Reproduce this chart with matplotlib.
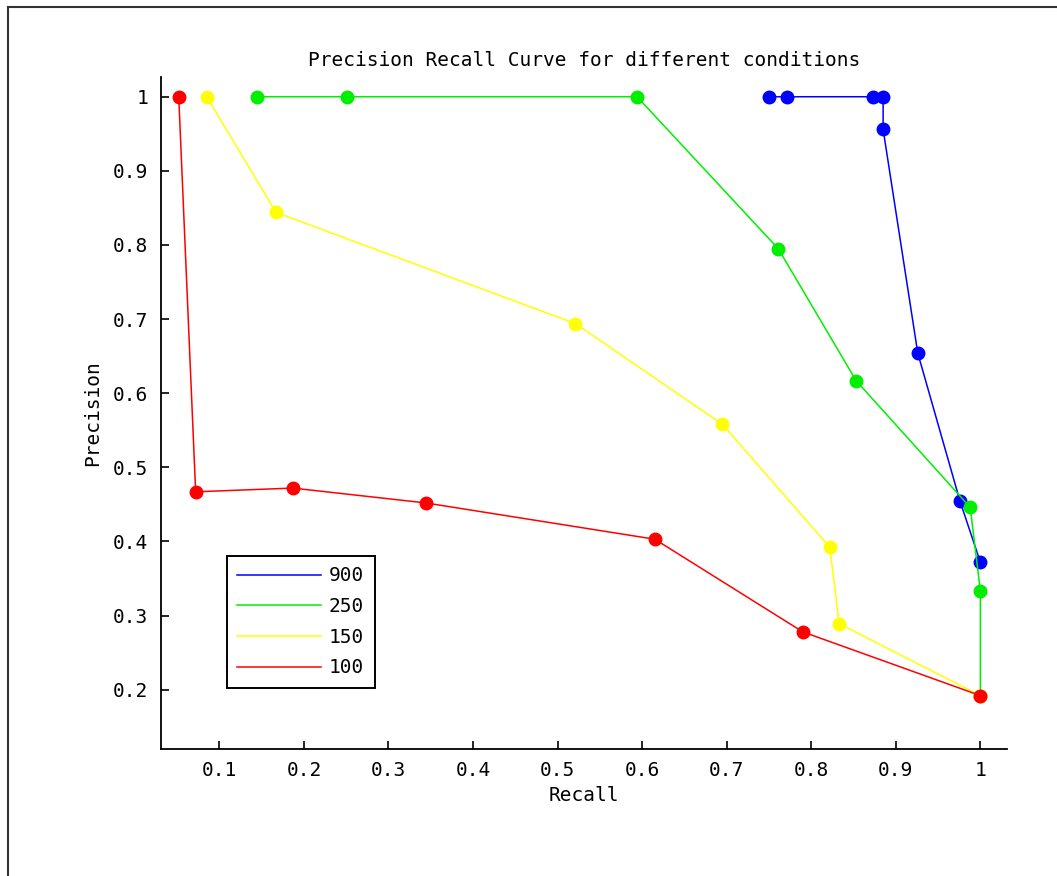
import matplotlib.pyplot as plt
from matplotlib.lines import Line2D

# recall / precision per condition
r900 = [0.750, 0.771, 0.873, 0.885, 0.885, 0.926, 0.976, 1.000]
p900 = [1.000, 1.000, 1.000, 1.000, 0.956, 0.654, 0.454, 0.372]

r250 = [0.145, 0.251, 0.594, 0.761, 0.853, 0.988, 1.000, 1.000]
p250 = [1.000, 1.000, 1.000, 0.795, 0.617, 0.446, 0.333, 0.192]

r150 = [0.085, 0.167, 0.521, 0.695, 0.822, 0.833, 1.000]
p150 = [1.000, 0.844, 0.694, 0.558, 0.392, 0.289, 0.192]

r100 = [0.052, 0.072, 0.187, 0.344, 0.615, 0.790, 1.000]
p100 = [1.000, 0.467, 0.472, 0.452, 0.403, 0.278, 0.192]

labels = ['900', '250', '150', '100']
colors = ['#0000ff', '#00ee00', '#ffff00', '#ff0000']

xticks = [0.1, 0.2, 0.3, 0.4, 0.5, 0.6, 0.7, 0.8, 0.9, 1.0]
xticklabels = ['0.1', '0.2', '0.3', '0.4', '0.5', '0.6', '0.7', '0.8', '0.9', '1']
yticks = [0.2, 0.3, 0.4, 0.5, 0.6, 0.7, 0.8, 0.9, 1.0]
yticklabels = ['0.2', '0.3', '0.4', '0.5', '0.6', '0.7', '0.8', '0.9', '1']

plt.rcParams['font.family'] = 'DejaVu Sans Mono'
fs = 14

fig = plt.figure(figsize=(10.57, 8.76), dpi=100)
ax = fig.add_axes([0.1523, 0.145, 0.800, 0.7674])

for r, p, c, lab in zip([r900, r250, r150, r100], [p900, p250, p150, p100], colors, labels):
    ax.plot(r, p, '-o', color=c, lw=1.1, ms=9, mec=c, label=lab)

ax.set_xlim(0.031, 1.031)
ax.set_ylim(0.12, 1.027)
ax.set_xticks(xticks)
ax.set_xticklabels(xticklabels)
ax.set_yticks(yticks)
ax.set_yticklabels(yticklabels)
ax.spines['top'].set_visible(False)
ax.spines['right'].set_visible(False)
for s in ['left', 'bottom']:
    ax.spines[s].set_linewidth(1.3)
ax.tick_params(direction='in', length=6, width=1.2, labelsize=fs, pad=9)

ax.set_title('Precision Recall Curve for different conditions', fontsize=fs, pad=8)
ax.set_xlabel('Recall', fontsize=fs, labelpad=4)
ax.set_ylabel('Precision', fontsize=fs, labelpad=8)

leg = ax.legend(loc='lower left', bbox_to_anchor=(0.0777, 0.0907), borderaxespad=0,
                fontsize=fs, fancybox=False, framealpha=1, edgecolor='black',
                handlelength=4.3, handletextpad=0.4, labelspacing=0.6,
                borderpad=0.55, markerscale=0)
leg.get_frame().set_linewidth(1.4)
for h in leg.legend_handles:
    h.set_marker('')

# outer frame line on left and top
fig.add_artist(Line2D([0.0076, 0.0076], [0, 0.9925], transform=fig.transFigure, color='#333333', lw=1.5))
fig.add_artist(Line2D([0.0076, 1], [0.9925, 0.9925], transform=fig.transFigure, color='#333333', lw=1.5))

fig.savefig('out.png', dpi=100)
